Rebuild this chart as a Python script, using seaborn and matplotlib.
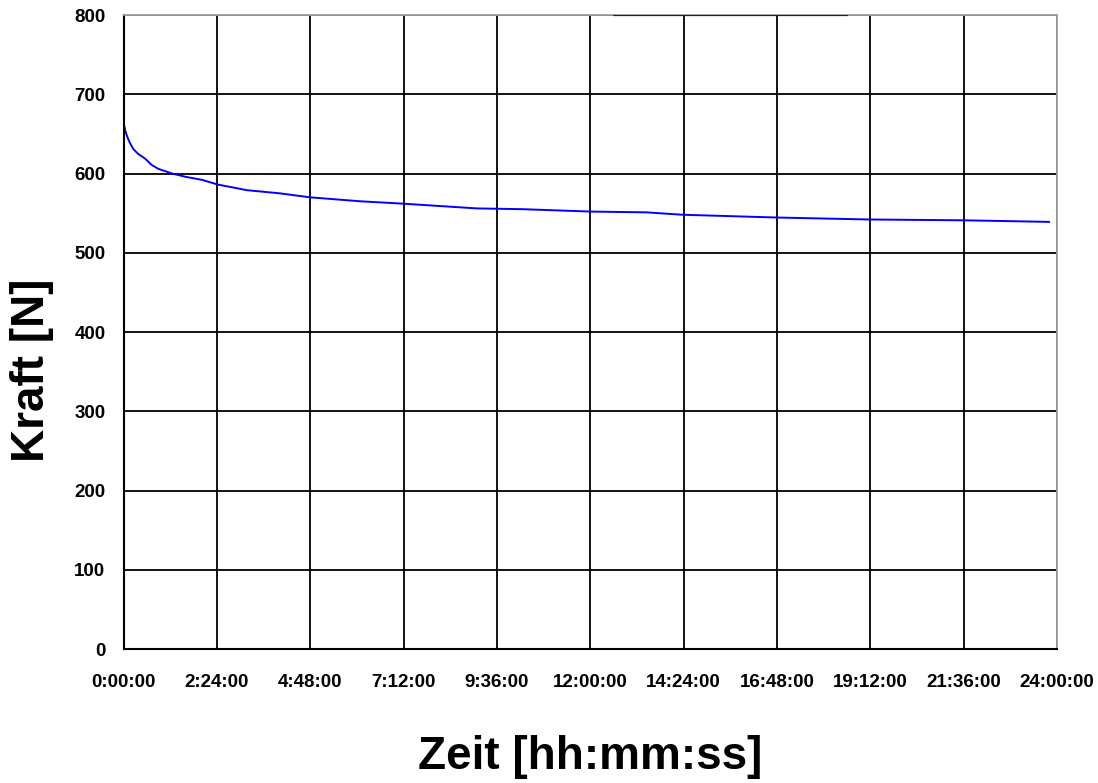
import matplotlib
matplotlib.use("Agg")
import matplotlib.pyplot as plt
import seaborn as sns
import pandas as pd

# Data (time in hours, force in N)
zeit_h = [0.0, 0.01, 0.05, 0.10, 0.16, 0.25, 0.37, 0.55, 0.72, 0.89, 1.25, 1.58,
          2.02, 2.43, 2.86, 3.17, 4.02, 4.79, 6.08, 7.18, 9.08, 10.27, 12.0,
          13.45, 14.37, 16.79, 19.18, 21.57, 23.8]
kraft_n = [680, 662, 653, 646, 639, 631, 625, 619, 611, 606, 600, 596,
           592, 586, 582, 579, 575, 570, 565, 562, 556, 555, 552,
           551, 548, 544.5, 542, 541, 539]

x_ticks = [0, 2.4, 4.8, 7.2, 9.6, 12.0, 14.4, 16.8, 19.2, 21.6, 24.0]
x_tick_labels = ["0:00:00", "2:24:00", "4:48:00", "7:12:00", "9:36:00", "12:00:00",
                 "14:24:00", "16:48:00", "19:12:00", "21:36:00", "24:00:00"]
y_ticks = [0, 100, 200, 300, 400, 500, 600, 700, 800]

df = pd.DataFrame({"Zeit": zeit_h, "Kraft": kraft_n})

sns.set_theme(style="white")
plt.rcParams["font.family"] = ["Liberation Sans", "DejaVu Sans"]

fig = plt.figure(figsize=(10.98, 7.83), dpi=100)
ax = fig.add_axes([0.1125, 0.1711, 0.8502, 0.8097])

sns.lineplot(data=df, x="Zeit", y="Kraft", ax=ax, color="#0000ff",
             linewidth=1.4)

ax.set_xlim(0, 24)
ax.set_ylim(0, 800)
ax.set_xticks(x_ticks)
ax.set_xticklabels(x_tick_labels)
ax.set_yticks(y_ticks)

ax.grid(True, color="black", linewidth=1.3)
ax.set_axisbelow(True)
ax.axhline(800, xmin=0.525, xmax=0.775, color="#222222", linewidth=1.6, zorder=3)

for side in ["left", "bottom"]:
    ax.spines[side].set_color("black")
    ax.spines[side].set_linewidth(1.5)
for side in ["top", "right"]:
    ax.spines[side].set_color("#a0a0a0")
    ax.spines[side].set_linewidth(1.3)

ax.tick_params(axis="x", direction="out", length=7, width=1.5, color="black",
               pad=11, labelsize=13.5)
ax.tick_params(axis="y", direction="out", length=5, width=1.5, color="black",
               pad=8, labelsize=13.5)
for lab in ax.get_xticklabels() + ax.get_yticklabels():
    lab.set_fontweight("bold")
    lab.set_color("black")

ax.set_xlabel("Zeit [hh:mm:ss]", fontsize=33, fontweight="bold", color="black")
ax.set_ylabel("Kraft [N]", fontsize=33, fontweight="bold", color="black")
ax.xaxis.label.set_va("center")
ax.yaxis.label.set_va("center")
ax.xaxis.set_label_coords(0.5, -0.170)
ax.yaxis.set_label_coords(-0.098, 0.44)

fig.savefig("out.png", dpi=100, facecolor="white")
